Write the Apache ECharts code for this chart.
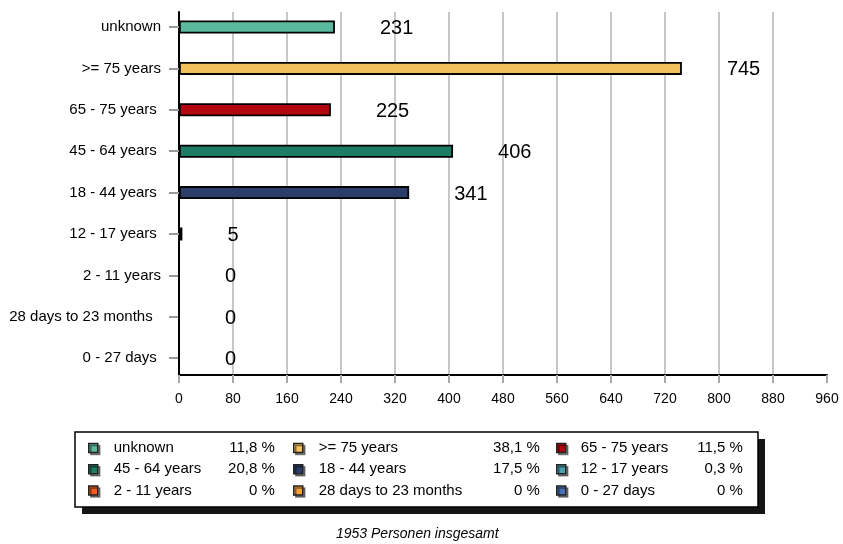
<!DOCTYPE html>
<html><head><meta charset="utf-8">
<script src="https://cdn.jsdelivr.net/npm/echarts@6/dist/echarts.min.js"></script>
<style>html,body{margin:0;padding:0;background:#fff}#c{width:843px;height:544px}</style>
</head><body><div id="c"></div>
<script>
const categories = ['unknown','>= 75 years','65 - 75 years','45 - 64 years','18 - 44 years','12 - 17 years','2 - 11 years','28 days to 23 months','0 - 27 days'];
const yTickLabels = ['unknown','>= 75 years','65 - 75 years ','45 - 64 years ','18 - 44 years ','12 - 17 years ','2 - 11 years','28 days to 23 months  ','0 - 27 days '];
const values = [231,745,225,406,341,5,0,0,0];
const percents = [11.8,38.1,11.5,20.8,17.5,0.3,0,0,0];
const colors = ['#5bb99e','#f2c05c','#b30710','#1e7b64','#2b3d6b','#4aa0b0','#f05a1e','#f4a23a','#4b6fb3'];
const xMin = 0, xMax = 960, xInterval = 80;
const legendColumns = [[0,3,6],[1,4,7],[2,5,8]];
const footer = '1953 Personen insgesamt';

const FONT = "'Liberation Sans', Arial, Helvetica, sans-serif";
const fmtPct = v => (v === 0 ? '0' : v.toFixed(1).replace('.', ',')) + ' %';

const series = categories.map((name, i) => ({
  name, type: 'bar', stack: 'all', xAxisIndex: 0, yAxisIndex: 0,
  barWidth: 13,
  data: values.map((v, j) => j === i ? v : '-'),
  itemStyle: { color: colors[i], borderColor: '#000', borderWidth: 1.8 },
  label: { show: true, position: 'right', distance: 45, offset: [0, 1.5], fontSize: 20, color: '#000', fontFamily: FONT },
  emphasis: { disabled: true }
}));

const legendLefts = [88, 293, 556];
const legendWidths = [[11, 95, 66], [11, 150, 71], [10, 96, 66]];
const legends = legendColumns.map((col, k) => ({
  orient: 'vertical', left: legendLefts[k], top: 440.5, padding: 0, itemGap: 6.3,
  itemWidth: 9, itemHeight: 9, icon: 'rect', selectedMode: false,
  data: col.map(i => categories[i]),
  itemStyle: { borderColor: '#222', borderWidth: 1.5, shadowColor: 'rgba(0,0,0,0.45)', shadowOffsetX: 2, shadowOffsetY: 2, shadowBlur: 0 },
  textStyle: {
    fontSize: 15, color: '#000', fontFamily: FONT,
    rich: {
      n: { fontSize: 15, color: '#000', fontFamily: FONT, padding: [0, 0, 0, legendWidths[k][0]], width: legendWidths[k][1] },
      p: { fontSize: 15, color: '#000', fontFamily: FONT, width: legendWidths[k][2], align: 'right' }
    }
  },
  formatter: name => {
    const i = categories.indexOf(name);
    return '{n|' + name + '}{p|' + fmtPct(percents[i]) + '}';
  }
}));

const chart = echarts.init(document.getElementById('c'), null, { renderer: 'canvas' });
chart.setOption({
  animation: false,
  backgroundColor: '#fff',
  title: {
    text: footer, left: 336, top: 527, padding: 0,
    textStyle: { fontSize: 14, fontStyle: 'italic', fontWeight: 'normal', color: '#000', fontFamily: FONT }
  },
  graphic: [
    { type: 'rect', z: 0, shape: { x: 82, y: 439, width: 683, height: 75 }, style: { fill: '#151515' } },
    { type: 'rect', z: 1, shape: { x: 75, y: 432, width: 683, height: 75 }, style: { fill: '#fff', stroke: '#000', lineWidth: 1.5 } }
  ],
  legend: legends,
  grid: [
    { left: 179, right: 16, top: 6.3, bottom: 165.1, containLabel: false, outerBoundsMode: 'none' },
    { left: 179, right: 16, top: 12, bottom: 169, containLabel: false, outerBoundsMode: 'none' }
  ],
  xAxis: [
    { gridIndex: 0, type: 'value', min: xMin, max: xMax, interval: xInterval, show: false },
    {
      gridIndex: 1, type: 'value', min: xMin, max: xMax, interval: xInterval,
      axisLine: { show: true, onZero: false, lineStyle: { color: '#000', width: 2 } },
      axisTick: { show: true, length: 8, lineStyle: { color: '#aaa', width: 2 } },
      axisLabel: { margin: 17, fontSize: 14, color: '#000', fontFamily: FONT },
      splitLine: { show: true, showMinLine: false, showMaxLine: false, lineStyle: { color: '#c8c8c8', width: 2 } }
    }
  ],
  yAxis: [
    {
      gridIndex: 0, type: 'category', inverse: true, data: yTickLabels,
      axisLine: { show: false },
      axisTick: { show: true, alignWithLabel: true, length: 10, lineStyle: { color: '#999', width: 2 } },
      axisLabel: { margin: 18, fontSize: 15, color: '#000', fontFamily: FONT, padding: [3, 0, 0, 0] },
      splitLine: { show: false }
    },
    {
      gridIndex: 1, type: 'value', min: 0, max: 1,
      axisLine: { show: true, onZero: false, lineStyle: { color: '#000', width: 2 } },
      axisTick: { show: false }, axisLabel: { show: false }, splitLine: { show: false }
    }
  ],
  series
});
</script></body></html>
